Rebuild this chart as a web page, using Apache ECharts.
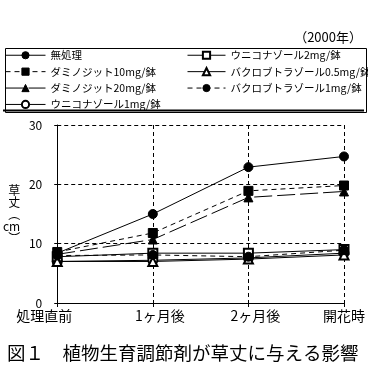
<!DOCTYPE html>
<html><head><meta charset="utf-8">
<script src="https://cdn.jsdelivr.net/npm/echarts@6/dist/echarts.min.js"></script>
<style>html,body{margin:0;padding:0;background:#fff}#c{width:368px;height:368px}</style>
</head><body><div id="c"></div>
<script>
const categories = ['処理直前', '1ヶ月後', '2ヶ月後', '開花時'];
const yTicks = [0, 10, 20, 30];
const untreated = [8.4, 15.0, 22.9, 24.7];
const daminozide10 = [8.6, 11.8, 18.9, 19.8];
const daminozide20 = [8.2, 10.7, 17.8, 18.8];
const uniconazole1 = [7.0, 7.2, 7.6, 8.4];
const uniconazole2 = [7.8, 8.4, 8.4, 9.0];
const paclobutrazol05 = [7.0, 7.0, 7.4, 8.1];
const paclobutrazol1 = [8.0, 8.1, 7.8, 8.9];
const names = ['無処理', 'ダミノジット10mg/鉢', 'ダミノジット20mg/鉢', 'ウニコナゾール1mg/鉢',
  'ウニコナゾール2mg/鉢', 'バクロブトラゾール0.5mg/鉢', 'バクロブトラゾール1mg/鉢'];
const yearNote = '（2000年）';
const caption = '図１　植物生育調節剤が草丈に与える影響';

const F = '"Noto Sans CJK JP", sans-serif';
function mk(name, data, symbol, dash) {
  return {
    name: name, type: 'line', data: data, symbol: symbol, symbolSize: 9,
    color: '#000',
    lineStyle: { color: '#000', width: 1, type: dash },
    itemStyle: { color: '#000', borderColor: '#000', borderWidth: 1 },
    emphasis: { disabled: true }, animation: false
  };
}
const series = [
  mk(names[0], untreated, 'circle', 'solid'),
  mk(names[1], daminozide10, 'rect', [5, 4]),
  mk(names[2], daminozide20, 'triangle', [18, 5]),
  mk(names[3], uniconazole1, 'emptyCircle', 'solid'),
  mk(names[4], uniconazole2, 'emptyRect', 'solid'),
  mk(names[5], paclobutrazol05, 'emptyTriangle', 'solid'),
  mk(names[6], paclobutrazol1, 'circle', [5, 4])
];
const legendText = { fontFamily: F, fontSize: 10.5, color: '#000' };
const legendLine = { width: 1 };
const chart = echarts.init(document.getElementById('c'), null, { renderer: 'canvas' });
chart.setOption({
  animation: false,
  backgroundColor: '#fff',
  grid: { left: 47, right: 23, top: 125, bottom: 65 },
  legend: [
    { data: [names[0], names[1], names[2], names[3]], orient: 'vertical', left: 5, top: 50, padding: 0,
      itemWidth: 40, itemHeight: 9, itemGap: 5.9, textStyle: legendText, lineStyle: legendLine,
      itemStyle: { borderWidth: 1 }, selectedMode: false },
    { data: [names[4], names[5], names[6]], orient: 'vertical', left: 187, top: 50, padding: 0,
      itemWidth: 38, itemHeight: 9, itemGap: 5.9, textStyle: legendText, lineStyle: legendLine,
      itemStyle: { borderWidth: 1 }, selectedMode: false }
  ],
  xAxis: {
    type: 'category', boundaryGap: false,
    data: [
      { value: categories[0], textStyle: { padding: [0, 26, 0, 0] } },
      { value: categories[1], textStyle: { padding: [0, 0, 0, 14] } },
      { value: categories[2], textStyle: { padding: [0, 0, 0, 14] } },
      { value: categories[3] }
    ],
    axisLine: { lineStyle: { color: '#000', width: 1 } },
    axisTick: { show: true, length: 4, lineStyle: { color: '#000' } },
    axisLabel: { fontFamily: F, fontSize: 14, color: '#000', margin: 6 },
    splitLine: { show: true, lineStyle: { color: '#000', type: [4, 3], width: 1 } }
  },
  yAxis: {
    type: 'value', min: yTicks[0], max: yTicks[yTicks.length - 1], interval: 10,
    name: '草\n丈\n︵\ncm\n︶', nameLocation: 'middle', nameRotate: 0, nameGap: 37,
    nameTextStyle: { fontFamily: F, fontSize: 12, lineHeight: 12, color: '#000' },
    axisLine: { show: true, lineStyle: { color: '#000', width: 1 } },
    axisTick: { show: true, length: 3, lineStyle: { color: '#000' } },
    axisLabel: { fontFamily: F, fontSize: 12, color: '#000', margin: 15 },
    splitLine: { show: true, lineStyle: { color: '#000', type: [4, 3], width: 1 } }
  },
  graphic: [
    { type: 'rect', left: 3, top: 46, shape: { width: 361, height: 64 },
      style: { fill: 'none', stroke: '#000', lineWidth: 1 }, silent: true },
    { type: 'line', shape: { x1: 3, y1: 110.5, x2: 364, y2: 110.5 }, style: { stroke: '#000', lineWidth: 2 }, silent: true },
    { type: 'text', right: 6, top: 31, style: { text: yearNote, font: '13px ' + F, fill: '#000' } },
    { type: 'text', left: 7, top: 344, style: { text: caption, font: '18.5px ' + F, fill: '#000' } }
  ],
  series: series
});
</script></body></html>
